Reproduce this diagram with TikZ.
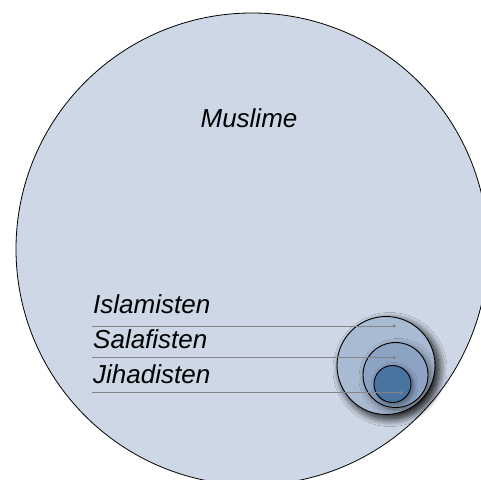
\documentclass[tikz,border=0pt]{standalone}
\usepackage{fontspec}
\setmainfont{Liberation Sans}
\usetikzlibrary{shadows.blur}
\definecolor{bigfill}{HTML}{CDD7E6}
\definecolor{islfill}{HTML}{A9BAD3}
\definecolor{salfill}{HTML}{8CA3C4}
\definecolor{jihfill}{HTML}{4A74A0}
\definecolor{leadgray}{HTML}{858585}
\begin{document}
\begin{tikzpicture}[x=1pt,y=-1pt,
  lbl/.style={font=\fontsize{26}{30}\selectfont\itshape, inner sep=0pt},
  ring/.style={circle, draw=black, line width=0.9pt, inner sep=0pt},
  leader/.style={draw=leadgray, line width=0.8pt},
  dotnode/.style={circle, fill=leadgray, inner sep=0pt, minimum size=3.5pt}]
\useasboundingbox (0,0) rectangle (481,479);
\begin{scope}
\clip (0,0) rectangle (481,479);
\node[ring, fill=bigfill, draw=black, line width=0.8pt, minimum size=472pt] (mus) at (252,249) {};
\end{scope}
\node[lbl, anchor=base] (tmus) at (249,127.3) {Muslime};
\node[ring, fill=islfill, minimum size=98pt,
  blur shadow={shadow xshift=4pt, shadow yshift=-4pt, shadow blur radius=8pt, shadow blur steps=25, shadow opacity=95}] (isl) at (386,365.5) {};
\node[ring, fill=salfill, minimum size=65pt,
  blur shadow={shadow xshift=3pt, shadow yshift=-3pt, shadow blur radius=7pt, shadow blur steps=25, shadow opacity=50}] (sal) at (395.5,375) {};
\node[ring, fill=jihfill, minimum size=37pt,
  blur shadow={shadow xshift=2pt, shadow yshift=-2pt, shadow blur radius=5pt, shadow blur steps=20, shadow opacity=50}] (jih) at (392.5,384) {};
\node[lbl, anchor=base west] (tisl) at (93,313.3) {Islamisten};
\node[lbl, anchor=base west] (tsal) at (93,348.3) {Salafisten};
\node[lbl, anchor=base west] (tjih) at (93,383.7) {Jihadisten};
\coordinate (s1) at (92,326);
\coordinate (s2) at (92,357.7);
\coordinate (s3) at (92,392.7);
\node[dotnode] (d1) at (394,326) {};
\node[dotnode] (d2) at (394,357.7) {};
\node[dotnode] (d3) at (401,392.7) {};
\draw[leader] (s1) -- (d1.center);
\draw[leader] (s2) -- (d2.center);
\draw[leader] (s3) -- (d3.center);
\end{tikzpicture}
\end{document}
